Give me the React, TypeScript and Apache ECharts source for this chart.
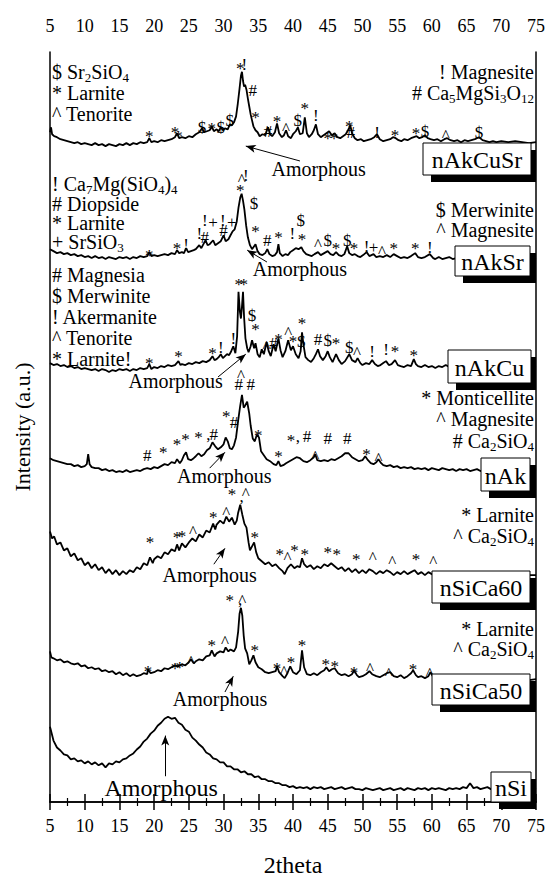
import React, { useEffect, useRef } from "react";
import * as echarts from "echarts";

const FONT = '"Liberation Serif", "Times New Roman", serif';

// ---------- data (2theta, intensity a.u. incl. stacking offset) ----------
const nAkCuSr = [[5,676],[5.15,681],[5.3,674],[5.6,672],[6,671],[6.5,669],[7,668],[7.5,667],[8,666],[8.5,665],[9,666],[9.5,664],[10,665],[10.5,664],[11,663],[11.5,665],[12,663],[12.5,664],[13,662],[13.5,664],[14,663],[14.5,662],[15,664],[15.5,663],[16,665],[16.5,663],[17,665],[17.5,664],[18,666],[18.5,665],[19,666],[19.3,670],[19.6,666],[20,667],[20.5,666],[21,668],[21.5,667],[22,668],[22.5,669],[23,671],[23.3,675],[23.6,670],[24,671],[24.5,670],[25,672],[25.5,671],[26,674],[26.5,676],[26.9,680],[27.2,676],[27.6,677],[28,678],[28.3,682],[28.6,677],[29,679],[29.3,677],[29.6,681],[29.9,678],[30.2,680],[30.6,679],[30.9,684],[31.2,683],[31.5,686],[31.8,692],[32.05,705],[32.3,720],[32.5,733],[32.65,737],[32.8,728],[32.95,722],[33.1,724],[33.3,719],[33.5,710],[33.7,702],[33.9,694],[34.1,688],[34.3,682],[34.6,678],[34.9,676],[35.2,672],[35.6,674],[36,673],[36.4,681],[36.7,674],[37,672],[37.4,676],[37.7,685],[38,675],[38.4,671],[38.7,673],[39,678],[39.3,672],[39.7,670],[40,674],[40.4,677],[40.7,681],[41,674],[41.4,675],[41.7,691],[42,675],[42.3,671],[42.7,674],[43,678],[43.3,684],[43.6,674],[44,671],[44.4,673],[44.8,675],[45.2,677],[45.6,673],[46,675],[46.4,671],[46.8,670],[47.2,672],[47.6,674],[48,679],[48.25,683],[48.5,675],[48.9,670],[49.3,668],[49.8,669],[50.2,667],[50.7,668],[51.2,669],[51.7,671],[52.1,674],[52.5,669],[53,667],[53.5,668],[54,669],[54.4,671],[54.8,670],[55.2,668],[55.6,667],[56,669],[56.5,668],[57,670],[57.4,671],[57.8,672],[58.2,670],[58.6,671],[59,673],[59.4,670],[59.8,669],[60.3,668],[60.8,669],[61.3,667],[61.8,669],[62.2,670],[62.7,668],[63.2,667],[63.7,668],[64.2,666],[64.7,668],[65.2,667],[65.7,668],[66.2,669],[66.8,671],[67.3,668],[67.8,667],[68.3,666],[68.8,667],[69.3,666],[70,667],[71,666],[72,667],[73,666],[74,665],[75,666]];

const nAkSr = [[5,558],[5.5,556],[6,554],[6.5,555],[7,553],[7.5,554],[8,552],[8.5,553],[9,551],[9.5,552],[10,550],[10.5,551],[11,549],[11.5,551],[12,549],[12.5,550],[13,548],[13.5,550],[14,549],[14.5,548],[15,550],[15.5,549],[16,550],[16.5,548],[17,550],[17.5,549],[18,551],[18.5,550],[19,551],[19.3,555],[19.6,551],[20,552],[20.5,551],[21,552],[21.5,553],[22,552],[22.5,554],[23,553],[23.3,557],[23.6,554],[24,555],[24.3,554],[24.6,559],[24.9,555],[25.3,556],[25.7,557],[26,558],[26.5,562],[26.8,559],[27.1,563],[27.4,567],[27.7,562],[28,563],[28.5,567],[28.8,562],[29.2,564],[29.6,566],[30,572],[30.3,566],[30.7,568],[31,572],[31.3,576],[31.6,578],[31.9,586],[32.15,600],[32.4,610],[32.6,614],[32.8,607],[33,598],[33.25,582],[33.5,570],[33.8,562],[34.1,558],[34.4,561],[34.6,563],[34.9,556],[35.2,553],[35.6,552],[36,554],[36.3,558],[36.6,553],[37,551],[37.4,552],[37.7,555],[37.9,563],[38.1,554],[38.5,551],[38.9,553],[39.3,552],[39.6,555],[40,557],[40.4,559],[40.8,558],[41.2,560],[41.5,556],[41.9,553],[42.3,552],[42.7,551],[43.1,553],[43.6,555],[44,552],[44.5,554],[45,556],[45.4,553],[45.8,552],[46.2,555],[46.6,552],[47,551],[47.4,553],[47.8,561],[48.1,554],[48.5,552],[48.9,553],[49.3,551],[49.7,550],[50.1,552],[50.6,555],[51,551],[51.6,553],[52,550],[52.5,551],[53,550],[53.5,552],[54,550],[54.5,553],[55,551],[55.5,549],[56,550],[56.5,549],[57,551],[57.6,554],[58,550],[58.5,549],[59,550],[59.7,553],[60.2,549],[60.5,548],[61,550],[61.5,548],[62,549],[62.5,550],[63,548],[63.5,549],[64,550],[64.5,548],[65,549],[65.5,550],[66,548],[67,549],[68,548],[69,550],[70,549],[71,548],[72,549],[73,550],[74,548],[75,549]];

const nAkCu = [[5,443],[5.5,441],[6,442],[6.5,440],[7,441],[7.5,439],[8,440],[8.5,438],[9,439],[9.5,437],[10,438],[10.5,437],[11,436],[11.5,437],[12,435],[12.5,437],[13,436],[13.5,434],[14,436],[14.5,435],[15,437],[15.5,436],[16,437],[16.5,435],[17,437],[17.5,436],[18,438],[18.5,437],[19,438],[19.3,442],[19.6,437],[20,439],[20.5,438],[21,440],[21.5,439],[22,441],[22.5,440],[23,441],[23.5,445],[23.8,441],[24,442],[24.5,441],[25,443],[25.5,442],[26,444],[26.5,443],[27,445],[27.5,444],[28,446],[28.4,450],[28.7,446],[29,447],[29.3,449],[29.6,452],[29.9,448],[30.2,450],[30.5,452],[30.8,451],[31.1,455],[31.4,460],[31.7,453],[31.95,470],[32.15,515],[32.35,495],[32.5,488],[32.65,500],[32.8,515],[32.95,490],[33.15,468],[33.4,458],[33.6,454],[33.9,460],[34.1,466],[34.4,458],[34.6,463],[34.9,452],[35.2,449],[35.5,457],[35.8,452],[36.2,464],[36.5,455],[36.8,450],[37.2,462],[37.5,455],[37.9,468],[38.2,456],[38.5,449],[38.9,455],[39.3,466],[39.7,456],[40,460],[40.4,452],[40.8,448],[41.1,455],[41.3,474],[41.5,462],[41.8,449],[42.2,446],[42.6,444],[43,448],[43.3,452],[43.6,457],[43.9,450],[44.3,446],[44.7,450],[45,455],[45.3,449],[45.7,444],[46.2,452],[46.6,446],[47,442],[47.5,445],[48.1,452],[48.5,446],[49,444],[49.3,448],[49.7,443],[50,441],[50.5,443],[51,442],[51.4,446],[51.8,442],[52.2,440],[52.6,441],[53,443],[53.4,445],[53.8,441],[54.2,442],[54.7,446],[55.1,441],[55.5,440],[56,439],[56.5,441],[57,440],[57.4,447],[57.7,442],[58,440],[58.5,439],[59,441],[59.5,439],[60,440],[60.5,438],[61,440],[61.5,439],[62,441],[62.5,439],[63,438],[63.5,440],[64,439],[64.5,438],[65,440],[65.5,439],[66,438],[67,439],[68,440],[69,438],[70,439],[71,440],[72,438],[73,439],[74,440],[75,439]];

const nAk = [[5,347],[5.5,345],[6,344],[6.5,343],[7,342],[7.5,341],[8,341],[8.5,339],[9,340],[9.5,338],[10,339],[10.3,341],[10.5,351],[10.7,341],[11,338],[11.5,337],[12,337],[12.5,335],[13,336],[13.5,334],[14,335],[14.5,333],[15,334],[15.5,333],[16,335],[16.5,333],[17,334],[17.5,335],[18,334],[18.5,336],[19,337],[19.5,336],[20,338],[20.5,337],[21,339],[21.5,341],[22,340],[22.5,343],[23,342],[23.3,346],[23.7,342],[24,345],[24.3,350],[24.6,353],[24.9,346],[25.3,345],[25.7,347],[26,349],[26.4,352],[26.8,349],[27.2,351],[27.6,355],[28,357],[28.4,363],[28.8,359],[29.2,356],[29.6,358],[30,361],[30.3,368],[30.6,364],[30.9,357],[31.2,356],[31.5,360],[31.8,368],[32.1,385],[32.4,400],[32.65,411],[32.9,398],[33.1,400],[33.4,404],[33.7,392],[33.9,380],[34.2,367],[34.5,364],[34.8,371],[35.1,368],[35.4,354],[35.8,350],[36.2,346],[36.7,344],[37.2,341],[37.6,340],[37.9,344],[38.2,339],[38.6,340],[39,342],[39.5,344],[40,346],[40.5,348],[41,347],[41.5,344],[42,343],[42.5,345],[43,348],[43.2,351],[43.5,345],[44,344],[44.5,345],[45,344],[45.5,346],[46,345],[46.5,347],[47,349],[47.5,352],[48,352],[48.5,348],[49,346],[49.5,344],[50,345],[50.4,349],[50.8,345],[51.2,342],[51.6,341],[52,343],[52.3,346],[52.7,342],[53,340],[53.5,339],[54,340],[54.5,338],[55,339],[55.5,337],[56,338],[56.5,337],[57,338],[57.5,336],[58,337],[58.5,336],[59,337],[59.5,335],[60,337],[60.5,336],[61,335],[61.5,337],[62,336],[62.5,335],[63,336],[63.5,334],[64,336],[64.5,335],[65,336],[65.5,334],[66,335],[66.5,336],[67,334],[67.5,335],[68,336],[68.5,334],[69,335],[70,334],[71,335],[72,334],[73,335],[74,334],[75,335]];

const nSiCa60 = [[5,273],[5.3,266],[5.6,268],[6,260],[6.5,262],[7,254],[7.5,256],[8,248],[8.5,251],[9,244],[9.5,246],[10,239],[10.5,242],[11,236],[11.5,240],[12,234],[12.5,237],[13,231],[13.5,235],[14,230],[14.5,234],[15,229],[15.5,233],[16,230],[16.5,234],[17,232],[17.5,237],[18,235],[18.5,241],[19,239],[19.4,247],[19.8,241],[20,245],[20.5,248],[21,246],[21.5,252],[22,250],[22.5,255],[23,253],[23.3,260],[23.6,254],[24,261],[24.5,257],[25,262],[25.5,266],[26,263],[26.5,270],[27,267],[27.5,274],[28,272],[28.5,281],[28.8,275],[29,280],[29.5,284],[30,281],[30.4,288],[30.8,283],[31.2,287],[31.6,280],[31.9,284],[32.1,292],[32.4,300],[32.7,290],[33,281],[33.3,277],[33.6,262],[33.8,254],[34.1,258],[34.4,262],[34.7,252],[35,246],[35.5,243],[36,240],[36.5,242],[37,238],[37.5,240],[38,236],[38.5,233],[38.8,230],[39.2,236],[39.7,240],[40.2,236],[40.6,238],[41,237],[41.3,246],[41.6,240],[42,237],[42.5,239],[43,235],[43.5,238],[44,236],[44.5,240],[45,238],[45.5,241],[46,238],[46.5,235],[47,237],[47.5,233],[48,236],[48.5,232],[49,235],[49.5,231],[50,234],[50.5,231],[51,235],[51.5,233],[52,230],[52.5,233],[53,231],[53.5,234],[54,232],[54.5,229],[55,232],[55.5,230],[56,233],[56.5,230],[57,232],[57.5,234],[58,230],[58.5,232],[59,229],[59.5,232],[60,230],[60.5,228],[61,231],[62,229],[63,231],[64,228],[65,230],[66,229],[67,231],[68,228],[69,230],[70,229],[71,230],[72,228],[73,230],[74,229],[75,229]];

const nSiCa50 = [[5,152],[5.2,146],[5.5,145],[6,143],[6.5,144],[7,141],[7.5,142],[8,140],[8.5,139],[9,140],[9.5,137],[10,138],[10.5,135],[11,136],[11.5,134],[12,135],[12.5,132],[13,133],[13.5,131],[14,132],[14.5,129],[15,131],[15.5,128],[16,130],[16.5,127],[17,129],[17.5,127],[18,128],[18.5,130],[19,129],[19.1,134],[19.5,130],[20,131],[20.5,133],[21,132],[21.5,135],[22,134],[22.5,136],[23,138],[23.5,137],[24,139],[24.5,138],[25,141],[25.3,144],[25.7,140],[26,142],[26.5,144],[27,143],[27.5,147],[28,148],[28.3,153],[28.7,147],[29,150],[29.5,152],[30,151],[30.3,156],[30.7,152],[31,154],[31.5,152],[31.8,156],[32.1,172],[32.3,190],[32.5,196],[32.7,188],[32.9,168],[33.1,155],[33.4,150],[33.7,139],[34,143],[34.3,148],[34.6,141],[35,136],[35.5,134],[36,131],[36.5,130],[37,131],[37.5,132],[37.7,137],[38,131],[38.5,127],[38.8,125],[39.2,130],[39.6,137],[40,131],[40.5,129],[41,133],[41.3,153],[41.6,136],[42,129],[42.5,128],[43,130],[43.5,128],[44,131],[44.5,133],[44.8,136],[45.2,132],[45.6,134],[46,135],[46.5,130],[47,128],[47.5,129],[48,127],[48.5,129],[48.8,133],[49.2,128],[49.5,126],[50,127],[50.5,129],[51,132],[51.4,129],[52,127],[52.5,126],[53,128],[53.5,130],[54,131],[54.5,127],[55,126],[55.5,128],[56,125],[56.5,127],[57,130],[57.3,133],[57.7,128],[58,126],[58.5,127],[59,125],[59.5,127],[59.8,131],[60.2,126],[60.5,124],[61,125],[62,124],[63,126],[64,124],[65,125],[66,123],[67,125],[68,124],[69,123],[70,125],[71,124],[72,123],[73,124],[74,123],[75,124]];

const nSi = [[5,76],[5.5,62],[6,55],[6.5,52],[7,48],[7.5,47],[8,43],[8.5,44],[9,41],[9.5,42],[10,39],[10.5,41],[11,38],[11.5,40],[12,37],[12.5,39],[13,35],[13.5,39],[14,38],[14.5,41],[15,40],[15.5,43],[16,44],[16.5,47],[17,49],[17.5,53],[18,56],[18.5,61],[19,64],[19.5,69],[20,72],[20.5,77],[21,80],[21.5,84],[22,86],[22.5,84],[23,85],[23.5,80],[24,78],[24.5,73],[25,71],[25.5,65],[26,62],[26.5,58],[27,55],[27.5,50],[28,48],[28.5,44],[29,43],[29.5,40],[30,40],[30.5,36],[31,36],[31.5,33],[32,33],[32.5,30],[33,31],[33.5,28],[34,28],[34.5,25],[35,26],[35.5,23],[36,23],[36.5,21],[37,21],[37.5,19],[38,19],[38.5,17],[39,17],[39.5,15],[40,16],[40.5,14],[41,15],[41.5,14],[42,15],[42.5,13],[43,15],[43.5,14],[44,15],[44.5,13],[45,14],[45.5,15],[46,13],[46.5,14],[47,15],[47.5,13],[48,14],[48.5,15],[49,13],[49.5,13],[50,12],[50.5,14],[51,13],[51.5,12],[52,13],[52.5,14],[53,12],[53.5,13],[54,14],[54.5,12],[55,13],[55.5,14],[56,12],[56.5,14],[57,13],[57.5,12],[58,14],[58.5,13],[59,14],[59.5,12],[60,14],[60.5,13],[61,14],[61.5,13],[62,12],[62.5,14],[63,13],[63.5,14],[64,13],[64.5,15],[65,14],[65.5,19],[66,14],[66.5,15],[67,13],[67.5,14],[68,15],[68.5,13],[69,14],[69.5,15],[70,14],[70.5,13],[71,14],[71.5,15],[72,13],[72.5,14],[73,13],[73.5,15],[74,14],[74.5,13],[75,14]];

const sampleNames = ["nAkCuSr", "nAkSr", "nAkCu", "nAk", "nSiCa60", "nSiCa50", "nSi"];
const sampleData = [nAkCuSr, nAkSr, nAkCu, nAk, nSiCa60, nSiCa50, nSi];

// peak phase markers [2theta, height, symbol]
const marksNAkCuSr = [[19.3,676,"*"],[23.0,680,"*"],[23.5,676,"*"],[26.9,681,"$"],[28.3,684,"*"],[29.6,681,"$"],[30.9,688,"$"],[32.4,744,"*"],[33.0,744,"!"],[34.2,718,"#"],[34.6,695,"*"],[36.4,677,"#"],[37.7,691,"*"],[39.0,684,"^"],[40.7,688,"$"],[41.7,704,"*"],[43.3,693,"!"],[45.0,674,"*"],[45.9,674,"*"],[48.1,686,"*"],[48.3,676,"#"],[52.1,676,"!"],[54.7,677,"*"],[57.7,679,"*"],[59.0,677,"$"],[62.0,677,"^"],[66.8,676,"$"]];
const marksNAkSr = [[32.6,632,"^"],[33.2,632,"!"],[32.4,621,"*"],[34.4,604,"$"],[34.6,580,"*"],[27.3,587,"!"],[28.5,585,"+"],[29.9,587,"!"],[31.2,585,"+"],[26.5,574,"!"],[27.3,570,"#"],[30.0,577,"#"],[19.3,556,"*"],[23.3,563,"*"],[24.6,563,"!"],[36.3,567,"#"],[37.9,574,"*"],[39.9,574,"!"],[41.3,572,"*"],[41.1,587,"$"],[43.6,567,"^"],[45.0,567,"$"],[46.2,563,"*"],[47.8,567,"$"],[48.8,563,"*"],[50.6,561,"!"],[51.6,560,"+"],[52.8,560,"^"],[54.5,563,"*"],[57.6,563,"*"],[59.7,560,"!"]];
const marksNAkCu = [[32.2,526,"*"],[32.9,526,"*"],[34.1,491,"$"],[34.6,481,"*"],[31.4,468,"!"],[28.4,457,"*"],[29.6,459,"!"],[19.3,447,"*"],[23.5,454,"*"],[36.2,464,"^"],[37.2,463,"#"],[37.9,471,"*"],[39.3,478,"^"],[40.0,469,"*"],[41.2,465,"$"],[41.3,487,"*"],[43.6,467,"#"],[45.0,466,"$"],[46.2,467,"*"],[48.1,459,"$"],[49.2,458,"^"],[51.4,455,"!"],[53.4,457,"!"],[54.7,459,"*"],[57.4,455,"*"]];
const marksNAk = [[32.5,435,"^"],[32.2,421,"#"],[33.9,421,"#"],[19.0,350,"#"],[21.3,357,"*"],[23.3,365,"*"],[24.5,370,"*"],[26.4,372,"*"],[27.8,368,","],[28.6,371,"#"],[30.4,393,"*"],[31.5,383,"#"],[35.0,374,"*"],[37.9,353,"*"],[39.7,369,"*"],[40.7,366,","],[42.0,369,"#"],[43.2,353,"^"],[45.0,367,"#"],[47.8,367,"#"],[50.6,355,"*"],[52.3,351,"^"]];
const marksNSiCa60 = [[31.2,314,"*"],[33.2,315,"^"],[32.6,305,","],[19.4,266,"*"],[23.3,271,"*"],[24.0,272,"*"],[25.6,277,"^"],[28.5,291,"*"],[30.4,296,"^"],[34.5,271,"*"],[38.1,254,"*"],[39.2,251,"^"],[40.2,258,"*"],[41.7,254,"*"],[45.0,256,"*"],[46.3,254,"*"],[49.1,249,"*"],[51.5,251,"^"],[54.3,247,"^"],[57.7,249,"*"],[60.2,247,"^"]];
const marksNSiCa50 = [[30.9,207,"*"],[32.7,207,"^"],[32.4,201,","],[19.1,136,"*"],[23.0,139,"*"],[23.7,140,"*"],[25.3,146,"^"],[28.3,162,"*"],[30.2,166,"^"],[34.5,157,"*"],[37.7,139,"*"],[38.7,136,"^"],[39.7,145,"*"],[41.3,162,"*"],[44.7,143,"*"],[46.0,141,"*"],[48.8,135,"*"],[51.1,139,"^"],[53.8,134,"^"],[57.3,138,"*"],[59.7,134,"^"]];
const allMarks = [...marksNAkCuSr, ...marksNAkSr, ...marksNAkCu, ...marksNAk, ...marksNSiCa60, ...marksNSiCa50];

// "Amorphous" labels [2theta, height] and arrows [from, to]
const amorphLabels = [[43.7,639],[41.0,538],[23.1,425],[30.1,329],[28.0,229],[29.5,104],[21.0,14]];
const amorphArrows = [[[41.0,647],[33.2,662]],[[36.25,545],[33.4,557]],[[29.2,429],[33.2,452]],[[28.0,337],[30.2,353]],[[28.6,240],[30.2,256]],[[30.2,111],[31.4,127]],[[21.6,26],[21.6,67]]];

// phase legends (rich text, {s|..} = subscript)
const legendTexts = [
  ["$ Sr{s|2}SiO{s|4}", "* Larnite", "^ Tenorite"],
  ["! Magnesite", "# Ca{s|5}MgSi{s|3}O{s|12}"],
  ["! Ca{s|7}Mg(SiO{s|4}){s|4}", "# Diopside", "* Larnite", "+ SrSiO{s|3}"],
  ["$ Merwinite", "^ Magnesite"],
  ["# Magnesia", "$ Merwinite", "! Akermanite", "^ Tenorite", "* Larnite!"],
  ["* Monticellite", "^ Magnesite", "# Ca{s|2}SiO{s|4}"],
  ["* Larnite", "^ Ca{s|2}SiO{s|4}"],
  ["* Larnite", "^ Ca{s|2}SiO{s|4}"],
];

// ---------- layout (pixels) ----------
const legendLayout = [
  { x: 52, align: "left", ys: [72, 93, 114] },
  { x: 534, align: "right", ys: [72, 93] },
  { x: 52, align: "left", ys: [184, 204, 223, 242] },
  { x: 534, align: "right", ys: [210, 230] },
  { x: 52, align: "left", ys: [275, 296, 317, 338, 359] },
  { x: 534, align: "right", ys: [398, 419, 441] },
  { x: 534, align: "right", ys: [515, 536] },
  { x: 534, align: "right", ys: [629, 649] },
];
const boxLayout = [
  [423, 143, 108, 32],
  [455, 246, 75, 30],
  [448, 350, 83, 33],
  [481, 458, 49, 33],
  [432, 571, 98, 32],
  [432, 674, 98, 31],
  [491, 772, 40, 30],
];
const PLOT_RIGHT = 536;

export default function App() {
  const ref = useRef<HTMLDivElement>(null);
  useEffect(() => {
    if (!ref.current) return;
    const chart = echarts.init(ref.current, undefined, { renderer: "svg" });

    const axisCommon = {
      type: "value",
      min: 5,
      max: 75,
      interval: 5,
      axisLine: { show: true, lineStyle: { color: "#000", width: 1.5 } },
      axisTick: { show: true, inside: false, length: 8, lineStyle: { color: "#000", width: 1.5 } },
      minorTick: { show: true, splitNumber: 2, length: 4, lineStyle: { color: "#000", width: 1.2 } },
      splitLine: { show: false },
      minorSplitLine: { show: false },
    };

    chart.setOption({
      animation: false,
      backgroundColor: "#fff",
      grid: { left: 50, right: 12, top: 52, bottom: 73 },
      xAxis: [
        {
          ...axisCommon,
          position: "bottom",
          axisLabel: { color: "#000", fontSize: 18, fontFamily: FONT, margin: 15 },
          name: "2theta",
          nameLocation: "middle",
          nameGap: 51,
          nameTextStyle: { color: "#000", fontSize: 24, fontFamily: FONT },
        },
        {
          ...axisCommon,
          position: "top",
          axisLabel: { color: "#000", fontSize: 18, fontFamily: FONT, margin: 17 },
        },
      ],
      yAxis: [
        {
          type: "value",
          min: 0,
          max: 757,
          position: "left",
          axisLine: { show: true, lineStyle: { color: "#000", width: 1.5 } },
          axisTick: { show: false },
          axisLabel: { show: false },
          splitLine: { show: false },
          name: "Intensity (a.u.)",
          nameLocation: "middle",
          nameGap: 17,
          nameTextStyle: { color: "#000", fontSize: 22, fontFamily: FONT },
        },
        {
          type: "value",
          min: 0,
          max: 757,
          position: "right",
          axisLine: { show: true, lineStyle: { color: "#000", width: 1.5 } },
          axisTick: { show: false },
          axisLabel: { show: false },
          splitLine: { show: false },
        },
      ],
      series: [
        ...sampleData.map((d, i) => ({
          type: "line",
          name: sampleNames[i],
          data: d,
          showSymbol: false,
          symbol: "none",
          silent: true,
          lineStyle: { color: "#000", width: 1.8 },
          z: 2,
        })),
        {
          type: "line",
          name: "arrows",
          data: [],
          silent: true,
          markLine: {
            silent: true,
            animation: false,
            symbol: ["none", "arrow"],
            symbolSize: [6, 10],
            label: { show: false },
            lineStyle: { color: "#000", width: 1, type: "solid" },
            data: amorphArrows.map(([a, b]) => [{ coord: a }, { coord: b }]),
          },
        },
      ],
    });

    // annotation texts, positioned through the chart's own axes
    const toPx = (x: number, h: number) =>
      chart.convertToPixel({ xAxisIndex: 0, yAxisIndex: 0 }, [x, h]) as number[];

    const graphics: any[] = [];
    allMarks.forEach(([x, h, ch]) => {
      const [px, py] = toPx(x as number, h as number);
      const dy = ch === "*" || ch === "^" ? 4 : ch === "," ? -3 : 0;
      graphics.push({
        type: "text",
        z: 90,
        silent: true,
        style: {
          text: ch,
          x: px,
          y: py + dy,
          fill: "#000",
          fontSize: 17,
          fontFamily: FONT,
          align: "center",
          textAlign: "center",
          verticalAlign: "middle",
          textVerticalAlign: "middle",
        },
      });
    });
    amorphLabels.forEach(([x, h], i) => {
      const [px, py] = toPx(x, h);
      const big = i === amorphLabels.length - 1;
      graphics.push({
        type: "text",
        z: 90,
        silent: true,
        style: {
          text: "Amorphous",
          x: px,
          y: py,
          fill: "#000",
          fontSize: big ? 24 : 20,
          fontFamily: FONT,
          align: "center",
          textAlign: "center",
          verticalAlign: "middle",
          textVerticalAlign: "middle",
        },
      });
    });
    legendTexts.forEach((lines, bi) => {
      const L = legendLayout[bi];
      lines.forEach((t, li) => {
        graphics.push({
          type: "text",
          z: 100,
          silent: true,
          style: {
            text: t,
            x: L.x,
            y: L.ys[li],
            fill: "#000",
            fontSize: 20,
            fontFamily: FONT,
            align: L.align,
            textAlign: L.align,
            verticalAlign: "middle",
            textVerticalAlign: "middle",
            lineHeight: 24,
            rich: {
              s: { fontSize: 13, fontFamily: FONT, fill: "#000", verticalAlign: "bottom", lineHeight: 13 },
            },
          },
        });
      });
    });
    boxLayout.forEach(([x, y, w, h], i) => {
      graphics.push({
        type: "rect",
        z: 100,
        silent: true,
        shape: { x: x + 8, y: y + 7, width: Math.min(w, PLOT_RIGHT - (x + 8)), height: h },
        style: { fill: "#000" },
      });
      graphics.push({
        type: "rect",
        z: 101,
        silent: true,
        shape: { x, y, width: w, height: h },
        style: { fill: "#fff", stroke: "#000", lineWidth: 1 },
      });
      graphics.push({
        type: "text",
        z: 102,
        silent: true,
        style: {
          text: sampleNames[i],
          x: x + w / 2,
          y: y + h / 2 + 1,
          fill: "#000",
          fontSize: 24,
          fontFamily: FONT,
          align: "center",
          textAlign: "center",
          verticalAlign: "middle",
          textVerticalAlign: "middle",
        },
      });
    });
    chart.setOption({ graphic: graphics });

    return () => chart.dispose();
  }, []);
  return <div ref={ref} style={{ position: "fixed", left: 0, top: 0, width: 548, height: 882, background: "#fff" }} />;
}
